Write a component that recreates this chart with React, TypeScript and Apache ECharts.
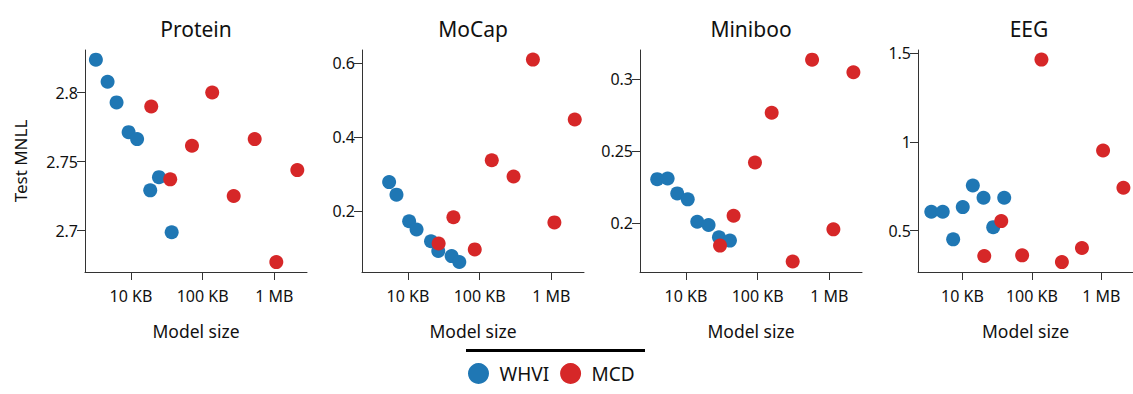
import React, { useEffect, useRef } from "react";
import * as echarts from "echarts";

// Model sizes in KB and test MNLL values, per dataset and method
const proteinWhviKB = [3.25, 4.73, 6.31, 9.29, 12.2, 18.6, 24.6, 37.0];
const proteinWhviMNLL = [2.824, 2.808, 2.793, 2.7714, 2.7664, 2.7292, 2.7388, 2.6988];
const proteinMcdKB = [19.2, 35.3, 71.0, 136, 271, 532, 1064, 2089];
const proteinMcdMNLL = [2.790, 2.7372, 2.7616, 2.8002, 2.7251, 2.7664, 2.6772, 2.7439];

const mocapWhviKB = [5.47, 6.93, 10.4, 13.2, 21.0, 26.5, 40.7, 52.1];
const mocapWhviMNLL = [0.279, 0.245, 0.173, 0.151, 0.119, 0.093, 0.079, 0.063];
const mocapMcdKB = [26.8, 43.1, 85.5, 147.6, 297, 553, 1102, 2118];
const mocapMcdMNLL = [0.113, 0.184, 0.097, 0.338, 0.294, 0.610, 0.170, 0.448];

const minibooWhviKB = [3.98, 5.56, 7.57, 10.6, 14.4, 20.7, 28.9, 41.1];
const minibooWhviMNLL = [0.2304, 0.2309, 0.2205, 0.2164, 0.2009, 0.1986, 0.1901, 0.1878];
const minibooMcdKB = [29.9, 46.2, 91.8, 157, 308, 574, 1138, 2163];
const minibooMcdMNLL = [0.1843, 0.2050, 0.2420, 0.2765, 0.1733, 0.3133, 0.1956, 0.3046];

const eegWhviKB = [3.56, 5.20, 7.35, 10.1, 14.1, 20.1, 27.7, 39.9];
const eegWhviMNLL = [0.607, 0.607, 0.451, 0.633, 0.755, 0.686, 0.520, 0.686];
const eegMcdKB = [20.6, 36.2, 72.3, 137, 270, 525, 1057, 2075];
const eegMcdMNLL = [0.357, 0.554, 0.361, 1.465, 0.323, 0.402, 0.952, 0.742];

const panelTitles = ["Protein", "MoCap", "Miniboo", "EEG"];
const xTickKB = [10, 100, 1000];
const xTickLabels = ["10 KB", "100 KB", "1 MB"];
const proteinYTicks = [2.7, 2.75, 2.8];
const mocapYTicks = [0.2, 0.4, 0.6];
const minibooYTicks = [0.2, 0.25, 0.3];
const eegYTicks = [0.5, 1, 1.5];

const FONT = "'Noto Sans', 'Open Sans', sans-serif";
const BLUE = "#1f77b4";
const RED = "#d62728";
const AXIS = "#333333";
const TEXT = "#111111";

const toLog = (kb: number) => Math.log10(kb * 1000);

export default function App() {
  const ref = useRef<HTMLDivElement>(null);

  useEffect(() => {
    if (!ref.current) return;
    const chart = echarts.init(ref.current, undefined, { renderer: "svg" });

    const whvi = [
      [proteinWhviKB, proteinWhviMNLL],
      [mocapWhviKB, mocapWhviMNLL],
      [minibooWhviKB, minibooWhviMNLL],
      [eegWhviKB, eegWhviMNLL],
    ];
    const mcd = [
      [proteinMcdKB, proteinMcdMNLL],
      [mocapMcdKB, mocapMcdMNLL],
      [minibooMcdKB, minibooMcdMNLL],
      [eegMcdKB, eegMcdMNLL],
    ];
    const yTicks = [proteinYTicks, mocapYTicks, minibooYTicks, eegYTicks];
    const yRanges = [
      [2.670, 2.831],
      [0.036, 0.636],
      [0.166, 0.320],
      [0.267, 1.519],
    ];
    const gridLefts = [85, 362, 640, 918];
    const gridTop = 50;
    const gridW = 222;
    const gridH = 222;
    const xMin = 3.36;
    const xMax = 6.455;
    const xTicks = xTickKB.map(toLog);

    const xLabel = (v: number) => {
      const j = xTicks.findIndex((t) => Math.abs(t - v) < 1e-6);
      return j >= 0 ? xTickLabels[j] : "";
    };

    const grid = gridLefts.map((l) => ({
      left: l,
      top: gridTop,
      width: gridW,
      height: gridH,
      containLabel: false,
    }));

    const xAxis = gridLefts.map((_, i) => ({
      type: "value",
      gridIndex: i,
      min: xMin,
      max: xMax,
      axisLine: { show: true, onZero: false, lineStyle: { color: AXIS, width: 1 } },
      axisTick: { show: true, length: 8, customValues: xTicks, lineStyle: { color: AXIS, width: 1 } },
      axisLabel: {
        customValues: xTicks,
        formatter: xLabel,
        fontSize: 16,
        color: TEXT,
        margin: 16,
        fontFamily: FONT,
      },
      splitLine: { show: false },
      name: "Model size",
      nameLocation: "middle",
      nameGap: 50,
      nameTextStyle: { fontSize: 17.5, color: TEXT, fontFamily: FONT },
    }));

    const yAxis = gridLefts.map((_, i) => ({
      type: "value",
      gridIndex: i,
      min: yRanges[i][0],
      max: yRanges[i][1],
      axisLine: { show: true, onZero: false, lineStyle: { color: AXIS, width: 1 } },
      axisTick: { show: true, length: 8, customValues: yTicks[i], lineStyle: { color: AXIS, width: 1 } },
      axisLabel: {
        customValues: yTicks[i],
        fontSize: 16,
        color: TEXT,
        margin: 7,
        fontFamily: FONT,
      },
      splitLine: { show: false },
      name: i === 0 ? "Test MNLL" : "",
      nameLocation: "middle",
      nameGap: 56,
      nameTextStyle: { fontSize: 17, color: TEXT, fontFamily: FONT },
    }));

    const series: any[] = [];
    gridLefts.forEach((_, i) => {
      series.push({
        type: "scatter",
        name: "WHVI",
        xAxisIndex: i,
        yAxisIndex: i,
        symbolSize: 14,
        itemStyle: { color: BLUE, opacity: 1 },
        data: whvi[i][0].map((kb, k) => [toLog(kb), whvi[i][1][k]]),
        clip: false,
      });
    });
    gridLefts.forEach((_, i) => {
      series.push({
        type: "scatter",
        name: "MCD",
        xAxisIndex: i,
        yAxisIndex: i,
        symbolSize: 14,
        itemStyle: { color: RED, opacity: 1 },
        data: mcd[i][0].map((kb, k) => [toLog(kb), mcd[i][1][k]]),
        clip: false,
      });
    });

    const graphic: any[] = panelTitles.map((t, i) => ({
      type: "text",
      x: gridLefts[i] + gridW / 2,
      y: 29,
      style: {
        text: t,
        fontSize: 21,
        fontFamily: FONT,
        fill: TEXT,
        align: "center",
        verticalAlign: "middle",
      },
    }));
    graphic.push({
      type: "line",
      shape: { x1: 466, y1: 350.5, x2: 645, y2: 350.5 },
      style: { stroke: "#000", lineWidth: 3 },
    });

    chart.setOption({
      animation: false,
      textStyle: { fontFamily: FONT },
      grid,
      xAxis,
      yAxis,
      series,
      graphic,
      legend: {
        data: ["WHVI", "MCD"],
        icon: "circle",
        itemWidth: 32,
        itemHeight: 21,
        itemGap: 11,
        left: 468,
        top: 363,
        padding: 0,
        textStyle: { fontSize: 19, color: TEXT, fontFamily: FONT },
      },
    });

    return () => chart.dispose();
  }, []);

  return (
    <div
      ref={ref}
      style={{ position: "absolute", left: 0, top: 0, width: 1133, height: 394 }}
    />
  );
}
